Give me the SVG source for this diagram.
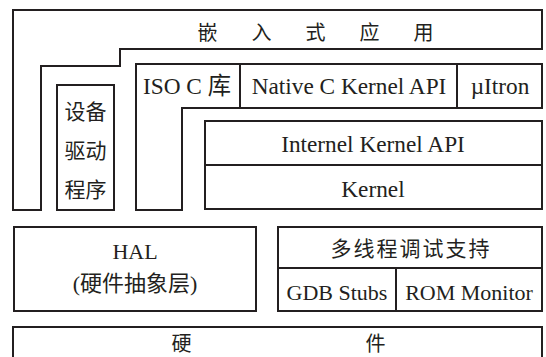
<svg xmlns="http://www.w3.org/2000/svg" width="546" height="357" viewBox="0 0 546 357">
  <style>
    .box { fill: #ffffff; stroke: #231f20; stroke-width: 2; stroke-linejoin: miter; }
    .div { fill: none; stroke: #231f20; stroke-width: 2; }
    .lat { font-family: "Liberation Serif", "Times New Roman", "Noto Sans CJK SC", serif; font-size: 22px; fill: #231f20; text-anchor: middle; }
    .big { font-size: 23.3px; }
    .cjk { font-family: "Noto Sans CJK SC", "Noto Sans", sans-serif; fill: #231f20; text-anchor: middle; dominant-baseline: central; }
  </style>
  <rect width="546" height="357" fill="#ffffff"/>

  <!-- embedded application layer (stepped outline) -->
  <g id="app">
    <polygon class="box" points="13,10 542,10 542,49 120,49 120,66 41,66 41,210 13,210"/>
    <text class="cjk" font-size="20" y="31">
      <tspan x="207.5">嵌</tspan><tspan x="261.5">入</tspan><tspan x="315.5">式</tspan><tspan x="369.5">应</tspan><tspan x="423.5">用</tspan>
    </text>
  </g>

  <!-- device drivers -->
  <g id="drivers">
    <rect class="box" x="57" y="85" width="57" height="125"/>
    <text class="cjk" font-size="21" x="85.5" y="110">设备</text>
    <text class="cjk" font-size="21" x="85.5" y="149">驱动</text>
    <text class="cjk" font-size="21" x="85.5" y="188">程序</text>
  </g>

  <!-- library / API row -->
  <g id="api">
    <polygon class="box" points="136,64 542,64 542,108 182,108 182,210 136,210"/>
    <line class="div" x1="240" y1="64" x2="240" y2="108"/>
    <line class="div" x1="457" y1="64" x2="457" y2="108"/>
    <text class="lat big" x="187" y="94">ISO C 库</text>
    <text class="lat big" x="349" y="94">Native C Kernel API</text>
    <text class="lat big" x="500" y="94">µItron</text>
  </g>

  <!-- kernel -->
  <g id="kernel">
    <rect class="box" x="205" y="121" width="337" height="88"/>
    <line class="div" x1="205" y1="165" x2="542" y2="165"/>
    <text class="lat big" x="373" y="152">Internel Kernel API</text>
    <text class="lat big" x="373" y="197">Kernel</text>
  </g>

  <!-- hardware abstraction layer -->
  <g id="hal">
    <rect class="box" x="14" y="227" width="242" height="84"/>
    <text class="lat" x="135" y="259">HAL</text>
    <text class="lat" x="135" y="291">(硬件抽象层)</text>
  </g>

  <!-- multithread debug support -->
  <g id="debug">
    <rect class="box" x="278" y="227" width="264" height="84"/>
    <line class="div" x1="278" y1="268" x2="542" y2="268"/>
    <line class="div" x1="396" y1="268" x2="396" y2="311"/>
    <text class="cjk" font-size="21" letter-spacing="2" x="411" y="247">多线程调试支持</text>
    <text class="lat" x="337" y="300">GDB Stubs</text>
    <text class="lat" x="469" y="300">ROM Monitor</text>
  </g>

  <!-- hardware -->
  <g id="hardware">
    <rect class="box" x="13" y="327" width="529" height="40"/>
    <text class="cjk" font-size="20" y="342"><tspan x="181.5">硬</tspan><tspan x="375.5">件</tspan></text>
  </g>
</svg>
